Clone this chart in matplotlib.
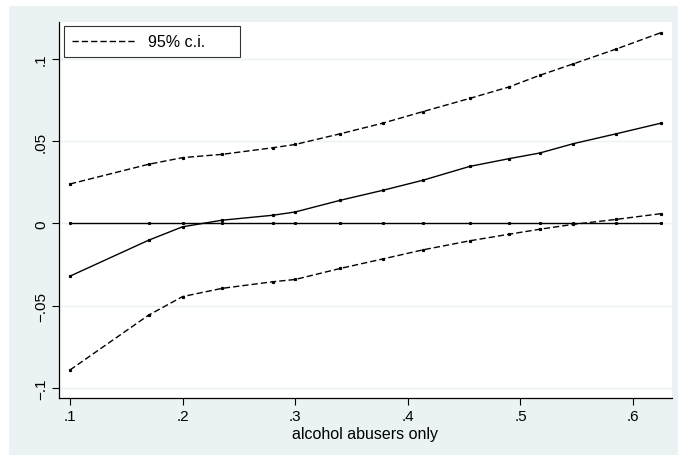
import matplotlib
matplotlib.use('Agg')
import matplotlib.pyplot as plt
from matplotlib.patches import Rectangle

# share of alcohol abusers and the estimated effect with its 95% band
x = [0.1, 0.17, 0.2, 0.235, 0.28, 0.3, 0.34, 0.378, 0.4135, 0.455, 0.49, 0.517, 0.547, 0.585, 0.625]
effect = [-0.032, -0.0101, -0.002, 0.002, 0.005, 0.007, 0.0141, 0.0202, 0.0263, 0.0347,
          0.0394, 0.0428, 0.0485, 0.0545, 0.061]
ci_upper = [0.024, 0.036, 0.040, 0.042, 0.046, 0.048, 0.0545, 0.061, 0.068, 0.076,
            0.083, 0.090, 0.097, 0.106, 0.116]
ci_lower = [-0.089, -0.0556, -0.0444, -0.0394, -0.0354, -0.034, -0.0273, -0.0215, -0.016,
            -0.0105, -0.0065, -0.0035, -0.0005, 0.0025, 0.006]
zero = [0.0] * len(x)

xticks = [0.1, 0.2, 0.3, 0.4, 0.5, 0.6]
xtick_labels = ['.1', '.2', '.3', '.4', '.5', '.6']
yticks = [-0.1, -0.05, 0, 0.05, 0.1]
ytick_labels = ['\u2212.1', '\u2212.05', '0', '.05', '.1']

bg = '#EAF2F3'
plt.rcParams['font.family'] = ['Liberation Sans', 'DejaVu Sans']

fig = plt.figure(figsize=(6.78, 4.56), dpi=100)
fig.patch.set_facecolor('white')
# stata style outer region (image is cropped with a thin white margin top/left)
fig.patches.append(Rectangle((9 / 678, 0), 1, 449 / 456, transform=fig.transFigure,
                             facecolor=bg, edgecolor='none', zorder=-1))

ax = fig.add_axes([59 / 678, 57 / 456, (672 - 59) / 678, (399 - 23) / 456])
ax.set_facecolor('white')

dash = (4.5, 2.2)
ax.plot(x, zero, color='black', lw=1.0, marker='s', ms=1.2)
ax.plot(x, effect, color='black', lw=1.0, marker='s', ms=1.3)
ci_line, = ax.plot(x, ci_upper, color='black', lw=1.0, marker='s', ms=1.3, dashes=dash)
ax.plot(x, ci_lower, color='black', lw=1.0, marker='s', ms=1.3, dashes=dash)

ax.set_xlim(0.0903, 0.6345)
ax.set_ylim(-0.106, 0.1224)

ax.set_xticks(xticks)
ax.set_xticklabels(xtick_labels, fontsize=11)
ax.set_yticks(yticks)
ax.set_yticklabels(ytick_labels, fontsize=11, rotation=90, va='center')
ax.tick_params(axis='both', direction='out', length=5, width=0.8, color='black', pad=3)

ax.grid(axis='y', color=bg, lw=1.0)
ax.set_axisbelow(True)
for side in ['top', 'right']:
    ax.spines[side].set_visible(False)
for side in ['left', 'bottom']:
    ax.spines[side].set_linewidth(0.9)

ax.set_xlabel('alcohol abusers only', fontsize=11.5, labelpad=2)

leg = ax.legend([ci_line], ['95% c.i.      '], loc='upper left',
                bbox_to_anchor=(0.0087, 0.9886),
                fontsize=11.5, frameon=True, fancybox=False, borderaxespad=0,
                handlelength=4.0, handletextpad=0.75, borderpad=0.5)
leg.get_frame().set_edgecolor('black')
leg.get_frame().set_linewidth(0.8)
leg.get_lines()[0].set_marker('')

fig.savefig('out.png', dpi=100, facecolor=fig.get_facecolor())
